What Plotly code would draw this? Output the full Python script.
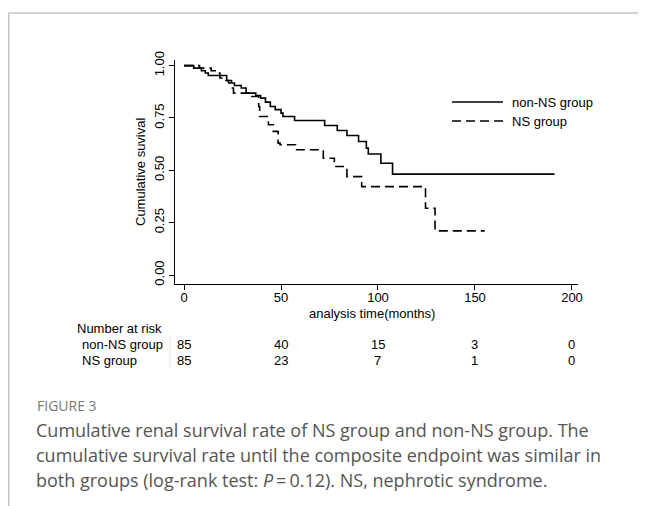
import plotly.graph_objects as go

# ---- data ----
nonns_time = [0, 5, 9, 11, 12.5, 22, 23, 26, 29.5, 32, 37, 39.5, 42, 44.5, 47, 50, 51, 57,
              72.5, 79, 84, 90, 94, 95, 101.5, 107.5, 191]
nonns_surv = [1.0, 0.988, 0.976, 0.965, 0.953, 0.929, 0.917, 0.905, 0.893, 0.869, 0.857, 0.845,
              0.826, 0.805, 0.79, 0.773, 0.757, 0.738, 0.714, 0.69, 0.666, 0.638, 0.606, 0.578,
              0.534, 0.482, 0.482]

ns_time = [0, 8, 14, 17, 18.5, 19.5, 24.5, 25.5, 35, 38.5, 39, 43.5, 46, 48.5, 49.5, 57.5,
           71.8, 77.5, 84, 91.6, 124.5, 129.4, 155]
ns_surv = [1.0, 0.988, 0.976, 0.965, 0.941, 0.929, 0.893, 0.869, 0.853, 0.805, 0.757, 0.718,
           0.686, 0.63, 0.622, 0.598, 0.558, 0.518, 0.47, 0.422, 0.319, 0.211, 0.211]

risk_times = [0, 50, 100, 150, 200]
risk_nonns = [85, 40, 15, 3, 0]
risk_ns = [85, 23, 7, 1, 0]

x_ticks = [0, 50, 100, 150, 200]
y_ticks = [0, 0.25, 0.5, 0.75, 1.0]
y_ticklabels = ["0.00", "0.25", "0.50", "0.75", "1.00"]

group_names = ["non-NS group", "NS group"]

caption_head = "FIGURE 3"
caption_lines = [
    "Cumulative renal survival rate of NS group and non-NS group. The",
    "cumulative survival rate until the composite endpoint was similar in",
    "both groups (log-rank test: <i>P</i>\u2009=\u20090.12). NS, nephrotic syndrome.",
]

# ---- layout geometry (pixels in the 646x506 page) ----
OFF = 8                      # browser body margin
PAGE_W, PAGE_H = 646, 506
L, R, T, B = 175, 578, 60, 284   # plot area edges in page pixels


def px(xpix):
    return (xpix - L) / (R - L)


def py(ypix):
    return (B - ypix) / (B - T)


FONT = "Liberation Sans, Arial, Helvetica, sans-serif"
CAPFONT = "Open Sans, sans-serif"

fig = go.Figure()
fig.add_trace(go.Scatter(x=nonns_time, y=nonns_surv, mode="lines", name=group_names[0],
                         line=dict(color="black", width=1.6, shape="hv"), showlegend=False))
fig.add_trace(go.Scatter(x=ns_time, y=ns_surv, mode="lines", name=group_names[1],
                         line=dict(color="black", width=1.6, shape="hv", dash="9px,5px"),
                         showlegend=False))

annotations = []
shapes = []

# manual legend
leg_rows = [(102, "solid"), (121, "9px,5px")]
for (ypix, dash), name in zip(leg_rows, group_names):
    shapes.append(dict(type="line", xref="paper", yref="paper", x0=px(452), x1=px(503),
                       y0=py(ypix), y1=py(ypix), line=dict(color="black", width=1.6, dash=dash)))
    annotations.append(dict(text=name, xref="paper", yref="paper", x=px(510), y=py(ypix),
                            xanchor="left", yanchor="middle", showarrow=False,
                            font=dict(family=FONT, size=13, color="black")))

# axis titles
annotations.append(dict(text="analysis time(months)", xref="paper", yref="paper", x=0.49,
                        y=py(313), xanchor="center", yanchor="middle", showarrow=False,
                        font=dict(family=FONT, size=13, color="black")))
annotations.append(dict(text="Cumulative suvival", xref="paper", yref="paper", x=px(140),
                        y=py(172), xanchor="center", yanchor="middle", textangle=-90,
                        showarrow=False, font=dict(family=FONT, size=13, color="black")))

# number at risk table
annotations.append(dict(text="Number at risk", xref="paper", yref="paper", x=px(75),
                        y=py(328), xanchor="left", yanchor="middle", showarrow=False,
                        font=dict(family=FONT, size=13, color="black")))
for ypix, name, vals in [(344, group_names[0], risk_nonns), (360, group_names[1], risk_ns)]:
    annotations.append(dict(text=name, xref="paper", yref="paper", x=px(80), y=py(ypix),
                            xanchor="left", yanchor="middle", showarrow=False,
                            font=dict(family=FONT, size=13, color="black")))
    for t, v in zip(risk_times, vals):
        annotations.append(dict(text=str(v), xref="x", yref="paper", x=t, y=py(ypix),
                                xanchor="center", yanchor="middle", showarrow=False,
                                font=dict(family=FONT, size=13, color="black")))
shapes.append(dict(type="line", xref="paper", yref="paper", x0=px(170), x1=px(170),
                   y0=py(336), y1=py(368), line=dict(color="#e4e4e4", width=1)))

# caption
annotations.append(dict(text=caption_head, xref="paper", yref="paper", x=px(35), y=py(405),
                        xanchor="left", yanchor="middle", showarrow=False,
                        font=dict(family=CAPFONT, size=14, color="#777777")))
for i, line in enumerate(caption_lines):
    annotations.append(dict(text=line, xref="paper", yref="paper", x=px(34), y=py(430 + 25 * i),
                            xanchor="left", yanchor="middle", showarrow=False,
                            font=dict(family=CAPFONT, size=18, color="#555555")))

# outer frame lines
shapes.append(dict(type="line", xref="paper", yref="paper", x0=px(8.8), x1=px(646),
                   y0=py(13), y1=py(13), line=dict(color="#c4c4c4", width=1.5)))
shapes.append(dict(type="line", xref="paper", yref="paper", x0=px(8.8), x1=px(8.8),
                   y0=py(13), y1=py(506), line=dict(color="#c4c4c4", width=1.5)))

x0_val = -4.64
x1_val = 203.1
y0_val = -0.043
y1_val = 1.027

fig.update_layout(
    width=PAGE_W - OFF, height=PAGE_H - OFF,
    margin=dict(l=L - OFF, r=PAGE_W - R, t=T - OFF, b=PAGE_H - B, pad=0),
    paper_bgcolor="white", plot_bgcolor="white",
    font=dict(family=FONT, size=13, color="black"),
    xaxis=dict(range=[x0_val, x1_val], tickvals=x_ticks, ticks="outside", ticklen=5,
               tickwidth=1, tickcolor="black", showline=True, linecolor="black", linewidth=1,
               showgrid=False, zeroline=False, ticklabelstandoff=-4,
               tickfont=dict(family=FONT, size=13, color="black")),
    yaxis=dict(range=[y0_val, y1_val], tickvals=y_ticks, ticktext=y_ticklabels, ticks="outside",
               ticklen=5, tickwidth=1, tickcolor="black", showline=True, linecolor="black",
               linewidth=1, showgrid=False, zeroline=False, tickangle=-90,
               tickfont=dict(family=FONT, size=13, color="black")),
    annotations=annotations,
    shapes=shapes,
    showlegend=False,
)

fig.write_html("out.html")
